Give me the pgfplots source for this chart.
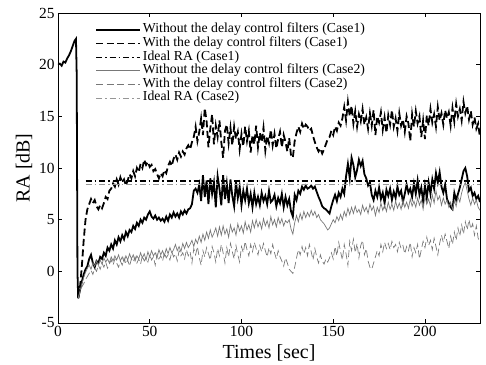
\documentclass[border=0pt]{standalone}
\usepackage{pgfplots}
\pgfplotsset{compat=1.18}
\usepackage{pgfplotstable}
\usepackage{fontspec}
\setmainfont{Liberation Serif}
\pgfplotstableread{
t a b c d
11 -2.6 -2.6 -2.6 -2.6
12 -1.8 -1.5 -1.9 -2.0
13 -1.0 0.5 -1.2 -1.5
14 -0.3 3.0 -0.6 -1.2
15 0.2 5.0 -0.1 -0.8
16 0.5 6.0 0.3 -0.5
17 1.2 6.5 0.6 -0.2
18 1.6 7.0 0.2 0.1
19 0.8 6.6 0.8 -0.3
20 0.4 6.9 0.5 0.3
21 1.0 6.3 1.0 0.0
22 0.8 6.0 0.6 0.6
23 1.4 6.4 1.1 0.2
24 1.2 6.1 0.7 0.8
25 1.8 6.6 1.3 0.4
26 1.5 7.2 0.9 0.9
27 2.3 7.0 1.2 0.3
28 2.0 7.8 0.8 0.7
29 2.6 8.0 1.4 1.1
30 2.2 8.5 1.0 0.6
31 3.0 8.2 1.5 1.2
32 2.6 8.9 1.1 0.8
33 3.3 8.4 1.6 0.4
34 2.9 9.1 1.0 1.0
35 3.5 8.6 1.4 0.6
36 3.1 8.9 0.9 1.3
37 3.8 8.3 1.5 0.7
38 3.4 8.8 1.1 1.1
39 4.0 9.4 1.7 0.5
40 3.8 9.0 1.2 1.2
41 4.4 9.7 1.6 0.9
42 4.1 9.2 1.0 1.4
43 4.7 10.0 1.5 0.8
44 4.4 9.6 1.2 1.2
45 5.0 10.4 1.8 0.7
46 4.7 10.0 1.3 1.5
47 5.2 10.8 1.7 1.0
48 5.0 10.3 1.1 1.3
49 5.5 10.6 1.9 0.9
50 5.8 10.1 1.4 1.6
51 5.3 10.3 2.0 1.1
52 5.1 9.7 1.5 1.4
53 5.4 9.9 1.8 0.6
54 5.0 9.4 1.3 1.7
55 5.2 9.0 2.1 1.2
56 4.9 9.5 1.6 1.5
57 5.1 9.2 2.0 1.0
58 4.8 9.8 1.5 1.8
59 5.3 9.5 2.2 1.3
60 4.9 10.2 1.7 1.6
61 5.5 10.6 2.3 1.1
62 5.2 10.2 1.8 1.9
63 5.7 10.9 2.1 1.4
64 5.3 11.3 2.6 1.7
65 5.6 10.8 2.0 1.0
66 5.2 11.5 2.4 2.0
67 5.8 11.1 1.9 1.5
68 5.5 11.6 2.7 1.8
69 5.9 11.3 2.2 1.2
70 5.6 11.9 2.8 2.1
71 6.0 12.2 2.3 1.5
72 6.1 11.8 2.6 1.9
73 6.5 12.5 3.0 0.8
74 7.8 13.0 2.4 2.2
75 8.0 14.0 3.1 1.6
76 7.6 12.6 2.7 2.4
77 8.4 13.5 3.4 1.3
78 6.8 14.8 2.8 0.6
79 9.3 13.2 3.6 2.0
80 7.2 15.8 3.0 1.4
81 8.8 14.5 3.8 2.3
82 6.5 12.0 3.2 1.7
83 9.0 13.8 4.0 1.1
84 7.5 15.2 3.3 2.4
85 8.6 12.3 3.7 1.8
86 6.2 14.1 4.2 0.9
87 9.2 13.0 3.4 2.2
88 8.0 14.6 4.3 1.5
89 6.4 12.5 3.5 2.6
90 9.3 11.0 4.4 1.8
91 7.0 13.6 3.6 0.8
92 8.5 14.2 4.1 2.3
93 6.6 12.4 3.3 1.4
94 8.9 13.9 4.5 2.7
95 7.3 12.2 3.8 1.9
96 6.3 14.0 4.2 1.2
97 8.7 12.8 3.5 2.5
98 7.1 13.5 4.6 1.6
99 8.2 11.8 3.9 0.9
100 6.4 13.3 4.4 2.4
101 7.8 12.1 3.7 1.8
102 6.9 14.0 4.8 2.9
103 8.0 12.6 4.0 2.1
104 6.6 13.6 4.5 1.5
105 7.5 11.5 3.8 2.6
106 6.2 13.2 4.9 1.9
107 7.6 12.3 4.2 2.8
108 6.5 14.1 5.0 2.2
109 7.2 12.0 4.3 1.6
110 6.4 13.4 4.8 2.5
111 7.6 12.5 4.1 1.9
112 6.8 13.9 5.1 2.7
113 7.3 11.7 4.4 2.0
114 6.5 13.1 4.9 1.4
115 7.8 12.4 4.2 2.3
116 6.7 13.7 5.3 1.7
117 6.9 12.2 4.5 2.6
118 7.4 13.3 5.0 1.8
119 6.3 11.9 4.3 1.2
120 7.1 12.8 5.2 2.0
121 6.6 13.5 4.6 1.4
122 7.5 12.0 5.1 1.0
123 6.2 13.2 4.4 0.5
124 7.2 12.5 4.9 1.3
125 6.4 11.6 4.7 0.8
126 7.0 12.9 5.0 0.2
127 5.8 11.2 4.1 0.0
128 5.3 11.0 3.6 -0.2
129 7.4 12.6 4.7 0.4
130 6.9 13.4 5.4 1.3
131 7.8 14.0 4.8 2.1
132 7.5 13.5 5.6 1.6
133 8.2 14.3 5.0 2.4
134 7.9 13.8 5.8 1.7
135 8.3 14.2 5.2 2.3
136 8.0 14.0 5.7 1.5
137 8.1 13.6 5.3 2.6
138 8.3 13.8 5.9 1.9
139 8.0 13.1 5.4 1.1
140 8.2 12.5 5.8 2.2
141 7.7 12.0 5.2 1.4
142 7.2 11.6 5.5 0.8
143 6.8 11.9 5.0 1.6
144 6.3 11.4 4.8 1.0
145 6.1 11.8 4.6 0.7
146 6.0 12.3 4.3 1.2
147 5.8 12.8 4.0 0.9
148 5.6 13.0 4.2 1.3
149 6.3 13.6 4.6 1.8
150 6.9 13.2 5.0 1.2
151 7.4 14.0 4.7 2.4
152 6.8 13.6 5.3 1.5
153 7.6 14.4 4.9 2.8
154 7.2 14.1 5.5 1.9
155 8.0 14.8 5.0 1.1
156 7.5 15.9 5.8 2.6
157 9.2 14.6 5.3 1.7
158 10.4 16.4 6.1 0.6
159 9.0 15.0 5.5 2.9
160 11.0 16.0 6.2 2.0
161 10.3 14.3 5.6 3.1
162 9.1 15.5 6.3 1.8
163 9.8 14.0 5.7 2.7
164 10.8 15.2 6.0 1.3
165 10.2 14.5 5.5 2.5
166 10.7 15.7 6.4 3.0
167 9.4 14.2 5.8 1.6
168 9.0 14.9 6.2 2.2
169 8.3 13.8 5.6 1.0
170 8.6 15.3 6.5 0.4
171 7.4 14.1 5.9 0.2
172 6.9 15.6 6.3 0.8
173 7.8 13.2 5.4 1.4
174 7.2 15.0 6.2 2.0
175 8.1 14.4 5.7 1.5
176 7.0 15.4 6.6 2.6
177 7.6 13.7 5.9 1.9
178 6.6 14.9 6.4 2.8
179 7.9 13.4 5.8 2.2
180 7.3 15.1 6.7 2.7
181 8.0 14.2 6.0 2.1
182 6.9 15.6 6.5 2.9
183 7.7 14.0 5.9 2.3
184 7.1 14.8 6.8 2.6
185 8.2 13.6 6.1 1.9
186 7.4 15.3 6.6 2.8
187 7.8 14.1 6.0 2.2
188 6.7 14.7 6.9 2.5
189 7.5 13.5 6.2 1.7
190 8.4 15.0 6.7 2.4
191 7.6 14.3 6.1 2.0
192 8.0 12.6 7.0 2.8
193 7.2 15.2 6.3 1.4
194 8.5 14.0 6.8 2.3
195 7.5 15.5 6.2 1.8
196 8.8 14.3 7.1 2.6
197 7.4 15.0 6.4 1.2
198 8.1 13.0 6.9 2.1
199 6.8 14.6 6.0 2.9
200 8.3 12.8 7.2 2.3
201 7.1 15.1 6.5 3.3
202 8.6 14.1 7.0 2.5
203 7.5 15.7 6.3 3.0
204 8.9 14.4 7.4 2.1
205 8.0 15.2 6.6 3.2
206 9.5 14.0 7.8 2.4
207 8.6 15.9 6.9 1.6
208 9.6 14.6 7.3 2.7
209 8.2 15.3 6.4 3.5
210 7.6 14.2 7.1 2.8
211 8.4 15.6 6.5 3.6
212 7.0 14.8 6.9 2.9
213 6.6 15.4 6.2 2.2
214 6.2 14.1 6.7 3.4
215 6.0 15.8 6.0 2.6
216 7.6 14.5 6.8 3.8
217 6.9 16.2 6.3 3.0
218 7.5 15.0 7.2 4.2
219 8.1 15.7 6.7 3.4
220 8.9 14.6 7.6 4.5
221 9.7 16.4 8.2 3.6
222 10.0 15.3 8.6 4.8
223 9.2 16.0 7.8 4.0
224 7.8 14.7 7.0 5.0
225 8.1 15.5 6.4 4.1
226 7.3 14.2 7.1 4.6
227 7.6 14.9 6.5 3.5
228 7.0 13.8 6.9 4.4
229 7.3 14.3 6.2 3.2
230 6.7 12.9 5.9 2.8
}\data
\definecolor{gA}{RGB}{120,120,120}
\definecolor{gB}{RGB}{150,150,150}
\begin{document}
\begin{tikzpicture}
\begin{axis}[
  scale only axis, width=422bp, height=310bp,
  xmin=0, xmax=230, ymin=-5, ymax=25,
  xtick={0,50,100,150,200}, ytick={-5,0,5,10,15,20,25},
  tick align=inside, major tick length=4bp,
  tick style={black, line width=0.5pt},
  axis line style={line width=0.6pt},
  /pgf/number format/assume math mode=true,
  tick label style={font=\fontsize{15.5}{17}\selectfont},
  xlabel={Times [sec]}, ylabel={RA [dB]},
  label style={font=\fontsize{20}{22}\selectfont},
  xlabel style={at={(axis description cs:0.5,0)}, anchor=north, yshift=-18bp},
  ylabel style={at={(axis description cs:0,0.5)}, anchor=center, yshift=34bp},
  legend style={draw=none, fill=none, at={(rel axis cs:0,1)}, anchor=north west,
    xshift=37bp, yshift=-10bp, font=\fontsize{13.8}{14}\selectfont, row sep=0bp, inner sep=0bp,
    nodes={text height=9.6bp, text depth=4bp, inner ysep=0bp}},
  legend cell align=left,
  legend image code/.code={\draw[#1] (0bp,0bp) -- (44bp,0bp);},
]
\addplot[black, line width=1.8pt, forget plot] coordinates {(0,20.0)(1,20.1)(2,19.9)(3,20.3)(4,20.2)(5,20.6)(6,20.9)(7,21.3)(8,21.8)(9,22.3)(9.8,22.5)(10.2,19)(10.6,0)(11,-2.6)};
\addplot[black, line width=1.8pt] table[x=t, y=a] {\data};
\addlegendentry{Without the delay control filters (Case1)}
\addplot[black, line width=1.8pt, dash pattern=on 7bp off 3.5bp] table[x=t, y=b] {\data};
\addlegendentry{With the delay control filters (Case1)}
\addplot[black, line width=1.3pt, dash pattern=on 6bp off 3bp on 1.5bp off 3bp] coordinates {(15,8.75)(230,8.75)};
\addlegendentry{Ideal RA (Case1)}
\addplot[gA, line width=0.7pt] table[x=t, y=c] {\data};
\addlegendentry{Without the delay control filters (Case2)}
\addplot[gA, line width=0.7pt, dash pattern=on 7bp off 3.5bp] table[x=t, y=d] {\data};
\addlegendentry{With the delay control filters (Case2)}
\addplot[gB, line width=0.7pt, dash pattern=on 6bp off 3bp on 1.5bp off 3bp] coordinates {(15,8.4)(230,8.4)};
\addlegendentry{Ideal RA (Case2)}
\end{axis}
\pgfresetboundingbox
\path (current axis.south west) ++(-58bp,-42bp) coordinate (bl);
\path (current axis.north east) ++(6bp,13bp) coordinate (tr);
\path (bl) rectangle (tr);
\end{tikzpicture}
\end{document}
